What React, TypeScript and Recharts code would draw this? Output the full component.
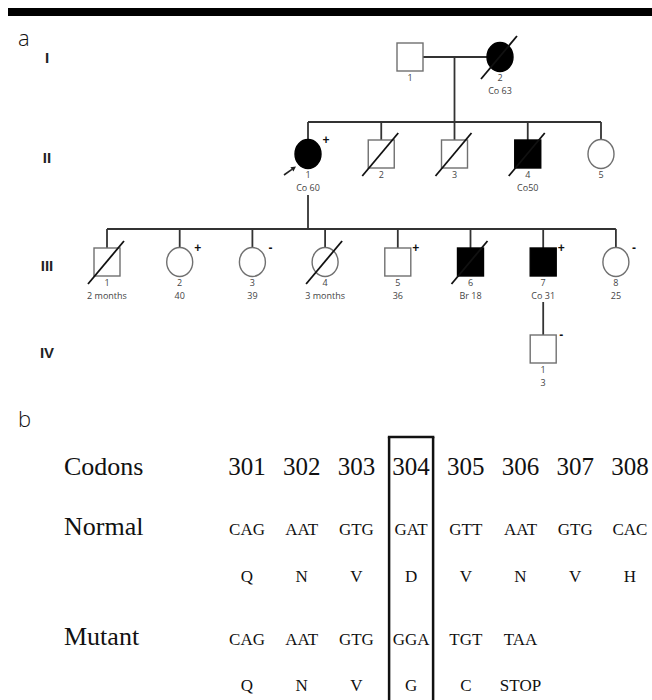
import React from 'react';
import { ComposedChart, Scatter, XAxis, YAxis, ReferenceLine, ReferenceArea } from 'recharts';

// ---------- Panel a: pedigree data ----------
const generationLabels = ['I', 'II', 'III', 'IV'];

type Person = {
  n: number;
  sex: 'M' | 'F';
  affected: boolean;
  deceased: boolean;
  test: '' | '+' | '-';
  note: string;
  proband?: boolean;
};

const genI: Person[] = [
  { n: 1, sex: 'M', affected: false, deceased: false, test: '', note: '' },
  { n: 2, sex: 'F', affected: true, deceased: true, test: '', note: 'Co 63' },
];
const genII: Person[] = [
  { n: 1, sex: 'F', affected: true, deceased: false, test: '+', note: 'Co 60', proband: true },
  { n: 2, sex: 'M', affected: false, deceased: true, test: '', note: '' },
  { n: 3, sex: 'M', affected: false, deceased: true, test: '', note: '' },
  { n: 4, sex: 'M', affected: true, deceased: true, test: '', note: 'Co50' },
  { n: 5, sex: 'F', affected: false, deceased: false, test: '', note: '' },
];
const genIII: Person[] = [
  { n: 1, sex: 'M', affected: false, deceased: true, test: '', note: '2 months' },
  { n: 2, sex: 'F', affected: false, deceased: false, test: '+', note: '40' },
  { n: 3, sex: 'F', affected: false, deceased: false, test: '-', note: '39' },
  { n: 4, sex: 'F', affected: false, deceased: true, test: '', note: '3 months' },
  { n: 5, sex: 'M', affected: false, deceased: false, test: '+', note: '36' },
  { n: 6, sex: 'M', affected: true, deceased: true, test: '', note: 'Br 18' },
  { n: 7, sex: 'M', affected: true, deceased: false, test: '+', note: 'Co 31' },
  { n: 8, sex: 'F', affected: false, deceased: false, test: '-', note: '25' },
];
const genIV: Person[] = [
  { n: 1, sex: 'M', affected: false, deceased: false, test: '-', note: '3' },
];

// ---------- Panel b: codon table data ----------
const codonNumbers = ['301', '302', '303', '304', '305', '306', '307', '308'];
const normalCodons = ['CAG', 'AAT', 'GTG', 'GAT', 'GTT', 'AAT', 'GTG', 'CAC'];
const normalAminoAcids = ['Q', 'N', 'V', 'D', 'V', 'N', 'V', 'H'];
const mutantCodons = ['CAG', 'AAT', 'GTG', 'GGA', 'TGT', 'TAA'];
const mutantAminoAcids = ['Q', 'N', 'V', 'G', 'C', 'STOP'];
const rowLabels = ['Codons', 'Normal', 'Mutant'];
const highlightedCodon = '304';

// ---------- layout (not data) ----------
const W = 652;
const H = 700;
const genY = [57, 154, 262, 349];
const genStart = [410, 308, 107, 0];
const genStep = [90, 73.25, 72.7, 0];
const HW = 13;
const HH = 14;
const sibY = [0, 122, 229, 0];
const colX0 = 247;
const colStep = 54.7;
const rowY = { codons: 475, normal: 535, normalAA: 582, mutant: 645, mutantAA: 691 };
const labelX = 64;

const SANS = "'Open Sans', 'Noto Sans', 'DejaVu Sans', sans-serif";
const ARIAL = "'Liberation Sans', Arial, sans-serif";
const SERIF = "'Liberation Serif', 'Times New Roman', serif";
const LINE = '#333';

function place(people: Person[], g: number, xs?: number[]) {
  return people.map((p, i) => ({
    ...p,
    x: xs ? xs[i] : genStart[g] + genStep[g] * i,
    y: genY[g],
  }));
}

function PersonShape(props: any) {
  const { cx, cy, payload: p } = props;
  if (cx == null || cy == null) return <g />;
  const fill = p.affected ? '#000' : '#fff';
  const stroke = p.affected ? '#000' : '#707070';
  const body =
    p.sex === 'M' ? (
      <rect x={cx - HW} y={cy - HH} width={HW * 2} height={HH * 2} fill={fill} stroke={stroke} strokeWidth={1.4} />
    ) : (
      <ellipse cx={cx} cy={cy} rx={HW} ry={HH + 0.5} fill={fill} stroke={stroke} strokeWidth={1.4} />
    );
  // proband arrow
  let arrow = null;
  if (p.proband) {
    const x1 = cx - 24, y1 = cy + 21, x2 = cx - 12, y2 = cy + 12.5;
    const dx = x2 - x1, dy = y2 - y1;
    const len = Math.sqrt(dx * dx + dy * dy);
    const ux = dx / len, uy = dy / len;
    const bx = x2 - ux * 5, by = y2 - uy * 5;
    const px = -uy * 2.6, py = ux * 2.6;
    arrow = (
      <g>
        <line x1={x1} y1={y1} x2={bx} y2={by} stroke="#222" strokeWidth={1.6} />
        <polygon points={`${x2},${y2} ${bx + px},${by + py} ${bx - px},${by - py}`} fill="#222" />
      </g>
    );
  }
  return (
    <g>
      {body}
      {p.deceased && (
        <line x1={cx - 19} y1={cy + 22} x2={cx + 17} y2={cy - 21} stroke="#111" strokeWidth={1.8} />
      )}
      {p.test && (
        <text x={cx + 18} y={cy - 10} textAnchor="middle" fontSize={12} fontWeight={700} fontFamily={ARIAL} fill="#111">
          {p.test}
        </text>
      )}
      <text x={cx} y={cy + HH + 9.5} textAnchor="middle" fontSize={9} fontFamily={SANS} fill="#444">
        {p.n}
      </text>
      {p.note && (
        <text x={cx} y={cy + HH + 23} textAnchor="middle" fontSize={9} fontFamily={SANS} fill="#444">
          {p.note}
        </text>
      )}
      {arrow}
    </g>
  );
}

const textShape = (size: number, family: string, anchor: string, weight = 400, fill = '#111') =>
  (props: any) => {
    const { cx, cy, payload } = props;
    if (cx == null || cy == null) return <g />;
    return (
      <text x={cx} y={cy} textAnchor={anchor} fontSize={size} fontFamily={family} fontWeight={weight} fill={fill}>
        {payload.text}
      </text>
    );
  };

export default function App() {
  const pI = place(genI, 0);
  const pII = place(genII, 1);
  const pIII = place(genIII, 2);
  const parentIII = pIII.find((p) => p.n === 7)!;
  const pIV = place(genIV, 3, [parentIII.x]);
  const parentII = pII.find((p) => p.n === 1)!;
  const people = [...pI, ...pII, ...pIII, ...pIV];

  const genLabelData = generationLabels.map((t, g) => ({ x: 47, y: genY[g] + (g === 0 ? 6 : 8.5), text: t }));
  const panelData = [
    { x: 18, y: 46, text: 'a' },
    { x: 18, y: 427, text: 'b' },
  ];
  const rowLabelData = [
    { x: labelX, y: rowY.codons, text: rowLabels[0] },
    { x: labelX, y: rowY.normal, text: rowLabels[1] },
    { x: labelX, y: rowY.mutant, text: rowLabels[2] },
  ];
  const colX = (i: number) => colX0 + colStep * i;
  const numberData = codonNumbers.map((t, i) => ({ x: colX(i), y: rowY.codons, text: t }));
  const seqData = [
    ...normalCodons.map((t, i) => ({ x: colX(i), y: rowY.normal, text: t })),
    ...mutantCodons.map((t, i) => ({ x: colX(i), y: rowY.mutant, text: t })),
  ];
  const aaData = [
    ...normalAminoAcids.map((t, i) => ({ x: colX(i), y: rowY.normalAA, text: t })),
    ...mutantAminoAcids.map((t, i) => ({ x: colX(i), y: rowY.mutantAA, text: t })),
  ];
  const hi = codonNumbers.indexOf(highlightedCodon);
  const boxL = colX(hi) - 22;
  const boxR = colX(hi) + 22;
  const boxTop = 437;

  // lines
  const segs: { x1: number; y1: number; x2: number; y2: number }[] = [];
  // marriage I-1 x I-2
  segs.push({ x1: pI[0].x + HW, y1: genY[0], x2: pI[1].x - HW, y2: genY[0] });
  const descX = pII[2].x;
  segs.push({ x1: descX, y1: genY[0], x2: descX, y2: sibY[1] });
  // sibship II
  segs.push({ x1: pII[0].x, y1: sibY[1], x2: pII[pII.length - 1].x, y2: sibY[1] });
  pII.forEach((p) => segs.push({ x1: p.x, y1: sibY[1], x2: p.x, y2: genY[1] - HH }));
  // II-1 descent
  segs.push({ x1: parentII.x, y1: genY[1] + 41, x2: parentII.x, y2: sibY[2] });
  segs.push({ x1: pIII[0].x, y1: sibY[2], x2: pIII[pIII.length - 1].x, y2: sibY[2] });
  pIII.forEach((p) => segs.push({ x1: p.x, y1: sibY[2], x2: p.x, y2: genY[2] - HH }));
  // III-7 descent
  segs.push({ x1: parentIII.x, y1: genY[2] + 40, x2: parentIII.x, y2: genY[3] - HH });

  return (
    <div style={{ position: 'absolute', left: 0, top: 0, width: W, height: H, background: '#fff' }}>
      <ComposedChart width={W} height={H} margin={{ top: 0, right: 0, bottom: 0, left: 0 }}>
        <XAxis type="number" dataKey="x" domain={[0, W]} hide allowDataOverflow />
        <YAxis type="number" dataKey="y" domain={[0, H]} reversed hide allowDataOverflow />
        <ReferenceArea x1={8} x2={W} y1={8} y2={16} fill="#000" fillOpacity={1} stroke="none" ifOverflow="visible" />
        {segs.map((s, i) => (
          <ReferenceLine
            key={'s' + i}
            segment={[{ x: s.x1, y: s.y1 }, { x: s.x2, y: s.y2 }]}
            stroke={LINE}
            strokeWidth={1.8}
            ifOverflow="visible"
          />
        ))}
        <ReferenceLine segment={[{ x: boxL, y: boxTop }, { x: boxL, y: H + 10 }]} stroke="#111" strokeWidth={2.5} ifOverflow="visible" />
        <ReferenceLine segment={[{ x: boxR, y: boxTop }, { x: boxR, y: H + 10 }]} stroke="#111" strokeWidth={2.5} ifOverflow="visible" />
        <ReferenceLine segment={[{ x: boxL - 1.25, y: boxTop }, { x: boxR + 1.25, y: boxTop }]} stroke="#111" strokeWidth={2.5} ifOverflow="visible" />
        <Scatter data={people} shape={(p: any) => <PersonShape {...p} />} isAnimationActive={false} />
        <Scatter data={genLabelData} shape={textShape(15, ARIAL, 'middle', 700, '#222')} isAnimationActive={false} />
        <Scatter data={panelData} shape={textShape(22, SANS, 'start', 300, '#111')} isAnimationActive={false} />
        <Scatter data={rowLabelData} shape={textShape(26, SERIF, 'start')} isAnimationActive={false} />
        <Scatter data={numberData} shape={textShape(25, SERIF, 'middle')} isAnimationActive={false} />
        <Scatter data={seqData} shape={textShape(17, SERIF, 'middle')} isAnimationActive={false} />
        <Scatter data={aaData} shape={textShape(17, SERIF, 'middle')} isAnimationActive={false} />
      </ComposedChart>
    </div>
  );
}
